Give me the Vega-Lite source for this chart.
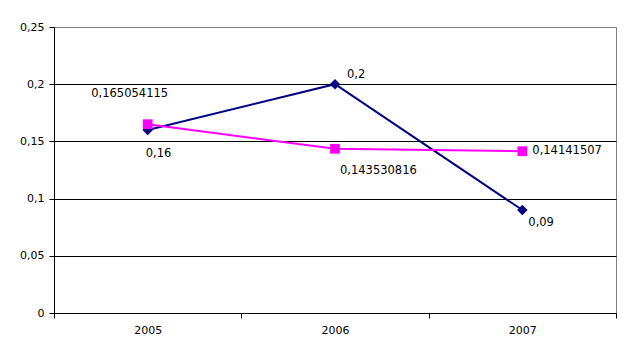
{
  "$schema": "https://vega.github.io/schema/vega-lite/v6.json",
  "width": 562,
  "height": 286,
  "autosize": {"type": "none"},
  "padding": {"left": 54, "top": 27, "right": 15, "bottom": 46},
  "background": "white",
  "config": {
    "locale": {"number": {"decimal": ",", "thousands": ".", "grouping": [3], "currency": ["", " €"]}},
    "view": {"stroke": "#808080", "strokeWidth": 1},
    "font": "DejaVu Sans",
    "axis": {"labelFont": "DejaVu Sans", "labelFontSize": 11, "labelColor": "black", "domainColor": "black", "tickColor": "black", "tickSize": 5, "title": null},
    "text": {"font": "DejaVu Sans", "fontSize": 11.5, "color": "black"}
  },
  "data": {"values": [
    {"year": 2005, "series": "A", "value": 0.16},
    {"year": 2006, "series": "A", "value": 0.2},
    {"year": 2007, "series": "A", "value": 0.09},
    {"year": 2005, "series": "B", "value": 0.165054115},
    {"year": 2006, "series": "B", "value": 0.143530816},
    {"year": 2007, "series": "B", "value": 0.14141507}
  ]},
  "encoding": {
    "x": {"field": "year", "type": "quantitative",
      "scale": {"domain": [2004.5, 2007.5], "nice": false, "zero": false},
      "axis": {"values": [2004.5, 2005, 2005.5, 2006, 2006.5, 2007, 2007.5], "grid": false,
        "labelExpr": "datum.value % 1 == 0 ? toString(datum.value) : ''",
        "tickOpacity": {"condition": {"test": "datum.value % 1 == 0", "value": 0}, "value": 1},
        "labelPadding": 6, "labelFlush": false}},
    "y": {"field": "value", "type": "quantitative",
      "scale": {"domain": [0, 0.25], "nice": false},
      "axis": {"values": [0, 0.05, 0.1, 0.15, 0.2, 0.25], "format": "~g", "grid": true,
        "gridColor": {"condition": {"test": "datum.value == 0.25", "value": "#808080"}, "value": "black"},
        "gridOpacity": 1, "labelPadding": 5}}
  },
  "layer": [
    {"mark": {"type": "line", "strokeWidth": 2},
     "encoding": {"color": {"field": "series", "type": "nominal", "scale": {"domain": ["A", "B"], "range": ["#000080", "#FF00FF"]}, "legend": null}}},
    {"mark": {"type": "point", "filled": true, "opacity": 1},
     "encoding": {
       "color": {"field": "series", "type": "nominal", "scale": {"domain": ["A", "B"], "range": ["#000080", "#FF00FF"]}, "legend": null},
       "shape": {"field": "series", "type": "nominal", "scale": {"domain": ["A", "B"], "range": ["diamond", "square"]}, "legend": null},
       "size": {"field": "series", "type": "nominal", "scale": {"domain": ["A", "B"], "range": [110, 95]}, "legend": null},
       "order": {"field": "series"}}},
    {"transform": [{"filter": "datum.series == 'A' && datum.year == 2005"}],
     "mark": {"type": "text", "align": "left", "dx": -2, "dy": 24},
     "encoding": {"text": {"field": "value", "type": "quantitative", "format": ".10~g"}}},
    {"transform": [{"filter": "datum.series == 'A' && datum.year == 2006"}],
     "mark": {"type": "text", "align": "left", "dx": 12, "dy": -9},
     "encoding": {"text": {"field": "value", "type": "quantitative", "format": ".10~g"}}},
    {"transform": [{"filter": "datum.series == 'A' && datum.year == 2007"}],
     "mark": {"type": "text", "align": "left", "dx": 6, "dy": 13},
     "encoding": {"text": {"field": "value", "type": "quantitative", "format": ".10~g"}}},
    {"transform": [{"filter": "datum.series == 'B' && datum.year == 2005"}],
     "mark": {"type": "text", "align": "center", "dx": -18, "dy": -30},
     "encoding": {"text": {"field": "value", "type": "quantitative", "format": ".10~g"}}},
    {"transform": [{"filter": "datum.series == 'B' && datum.year == 2006"}],
     "mark": {"type": "text", "align": "left", "dx": 5, "dy": 22},
     "encoding": {"text": {"field": "value", "type": "quantitative", "format": ".10~g"}}},
    {"transform": [{"filter": "datum.series == 'B' && datum.year == 2007"}],
     "mark": {"type": "text", "align": "left", "dx": 10, "dy": 0},
     "encoding": {"text": {"field": "value", "type": "quantitative", "format": ".10~g"}}}
  ]
}
